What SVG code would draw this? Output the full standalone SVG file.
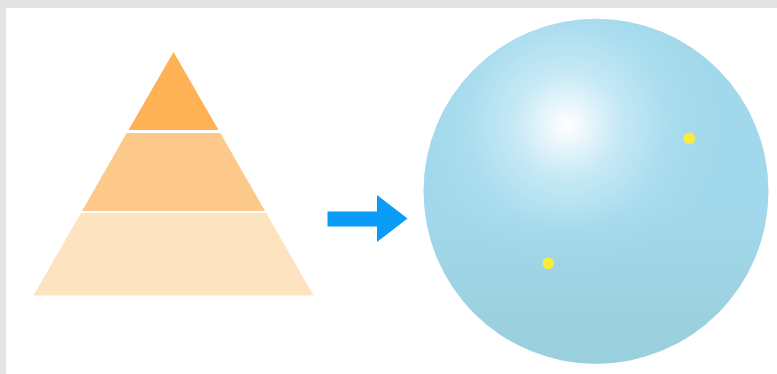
<svg xmlns="http://www.w3.org/2000/svg" width="777" height="374" viewBox="0 0 777 374">
<defs>
<radialGradient id="glow" gradientUnits="userSpaceOnUse" cx="567" cy="125" r="150" fx="567" fy="125">
<stop offset="0" stop-color="#ffffff"/>
<stop offset="0.08" stop-color="#f2fafd"/>
<stop offset="0.35" stop-color="#c6e9f5"/>
<stop offset="0.7" stop-color="#a8dcee"/>
<stop offset="1" stop-color="#a2d8eb"/>
</radialGradient>
<linearGradient id="shade" x1="0" y1="0" x2="0" y2="1">
<stop offset="0.55" stop-color="#97cdd8" stop-opacity="0"/>
<stop offset="0.85" stop-color="#97cdd8" stop-opacity="0.6"/>
<stop offset="1" stop-color="#97cdd8" stop-opacity="0.7"/>
</linearGradient>
</defs>
<style>
.dot{fill:#fbeb3c}
</style>
<rect x="0" y="0" width="777" height="374" fill="#ffffff"/>
<rect x="0" y="0" width="777" height="8" fill="#e4e4e4"/>
<rect x="0" y="0" width="6" height="374" fill="#e4e4e4"/>
<g id="pyramid">
<g id="layer-top"><polygon points="173.5,52 218.5,130 128.5,130" fill="#ffb155"/></g>
<g id="layer-middle"><polygon points="126.7,133 220.3,133 265,211 82,211" fill="#fdc98a"/></g>
<g id="layer-bottom"><polygon points="80.8,213 266.2,213 313.5,295.5 33.5,295.5" fill="#fde3c0"/></g>
</g>
<g id="connectors">
<polygon points="327.5,211.5 377,211.5 377,195 407.5,218.5 377,242 377,226.5 327.5,226.5" fill="#0a9cf7"/>
</g>
<g id="sphere">
<circle cx="596" cy="191.2" r="172.5" fill="url(#glow)"/>
<circle cx="596" cy="191.2" r="172.5" fill="url(#shade)"/>
<circle class="dot" cx="689.3" cy="138.3" r="5.8"/>
<circle class="dot" cx="548.3" cy="263.3" r="5.8"/>
</g>
</svg>
